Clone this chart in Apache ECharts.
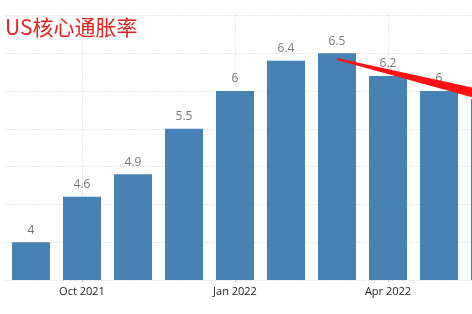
<!DOCTYPE html>
<html>
<head>
<meta charset="utf-8">
<script src="https://cdn.jsdelivr.net/npm/echarts@6/dist/echarts.min.js"></script>
<style>html,body{margin:0;padding:0;background:#fff;}#c{width:472px;height:314px;}</style>
</head>
<body>
<div id="c"></div>
<script>
const categories = ['Sep 2021','Oct 2021','Nov 2021','Dec 2021','Jan 2022','Feb 2022','Mar 2022','Apr 2022','May 2022','Jun 2022'];
const coreCPI = [4.0, 4.6, 4.9, 5.5, 6.0, 6.4, 6.5, 6.2, 6.0, 5.9];
const trendArrow = [[6, 6.424, 9, 5.924]];
const titleText = 'US核心通胀率';

const chart = echarts.init(document.getElementById('c'), null, {renderer: 'canvas'});
const showIdx = (i) => i % 3 === 1;
chart.setOption({
  animation: false,
  title: {
    text: titleText, left: 0, top: 12,
    textStyle: {color: '#e32222', fontSize: 21, fontWeight: 'normal', fontFamily: 'Noto Sans CJK SC'}
  },
  grid: {left: 5.5, right: -43.5, top: 15.5, bottom: 34, containLabel: false, outerBoundsMode: 'none'},
  xAxis: {
    type: 'category', data: categories, boundaryGap: true,
    axisLine: {show: false},
    axisTick: {show: true, alignWithLabel: true, interval: showIdx, length: 3, lineStyle: {color: '#ccc'}},
    axisLabel: {
      interval: showIdx, color: '#222', fontSize: 11, fontFamily: 'Open Sans', margin: 6,
      formatter: (v) => v.replace(/^(\w{3})\w* /, '$1 ')
    },
    splitLine: {show: true, alignWithLabel: true, interval: showIdx, lineStyle: {color: '#ccc', type: [1, 2]}}
  },
  yAxis: {
    type: 'value', min: 3.5, max: 7, interval: 0.5,
    axisLine: {show: false}, axisTick: {show: false}, axisLabel: {show: false},
    splitLine: {show: true, lineStyle: {color: '#ccc', type: [1, 2]}}
  },
  series: [
    {
      type: 'bar', data: coreCPI, barWidth: 38,
      itemStyle: {color: '#4682b4'},
      label: {show: true, position: 'top', distance: 6, color: '#777', fontSize: 12, fontFamily: 'Open Sans'}
    },
    {
      type: 'custom', data: trendArrow, clip: false, z: 10,
      renderItem: function (params, api) {
        const p1 = api.coord([api.value(0), api.value(1)]);
        const p2 = api.coord([api.value(2), api.value(3)]);
        return {
          type: 'polygon',
          shape: {points: [[p1[0], p1[1] - 1], [p2[0], p2[1] - 5.5], [p2[0], p2[1] + 5.5], [p1[0], p1[1] + 1]]},
          style: {fill: '#ff1111'}
        };
      }
    }
  ]
});
</script>
</body>
</html>
